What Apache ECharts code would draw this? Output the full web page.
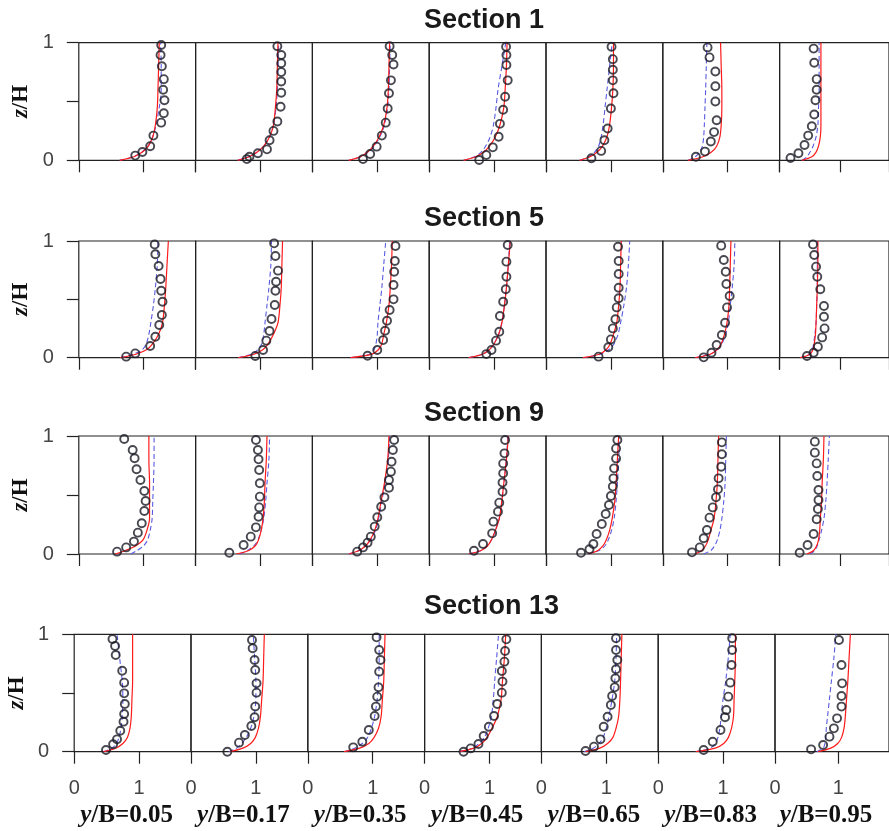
<!DOCTYPE html>
<html><head><meta charset="utf-8">
<script src="https://cdn.jsdelivr.net/npm/echarts@6/dist/echarts.min.js"></script>
<style>html,body{margin:0;padding:0;background:#fff}#c{width:889px;height:831px}</style>
</head><body><div id="c"></div>
<script>
const sections = ['Section 1', 'Section 5', 'Section 9', 'Section 13'];
const yBLabels = ['0.05', '0.17', '0.35', '0.45', '0.65', '0.83', '0.95'];
const xTicks = [0, 1];
const zTicks = [0, 0.5, 1];
const zLevels = [0, 0.03, 0.07, 0.12, 0.2, 0.3, 0.45, 0.6, 0.8, 1.0];

// model 1 (red solid), x values at zLevels, one row per y/B column
const red_S1 = [
  [0.63,0.85,0.98,1.07,1.14,1.18,1.21,1.22,1.23,1.24],
  [0.65,0.82,0.95,1.05,1.14,1.20,1.23,1.25,1.26,1.27],
  [0.56,0.74,0.85,0.94,1.03,1.10,1.15,1.17,1.18,1.19],
  [0.53,0.72,0.84,0.93,1.02,1.09,1.15,1.17,1.19,1.20],
  [0.52,0.68,0.79,0.87,0.94,0.98,1.01,1.03,1.04,1.04],
  [0.39,0.62,0.75,0.83,0.88,0.90,0.91,0.91,0.90,0.89],
  [0.37,0.53,0.60,0.64,0.67,0.68,0.68,0.68,0.68,0.68]
];
const red_S5 = [
  [0.64,0.88,1.05,1.14,1.23,1.29,1.32,1.34,1.36,1.38],
  [0.66,0.90,1.04,1.12,1.20,1.27,1.30,1.32,1.33,1.34],
  [0.59,0.92,1.02,1.07,1.10,1.14,1.18,1.20,1.22,1.23],
  [0.61,0.82,0.93,1.00,1.07,1.12,1.16,1.19,1.22,1.25],
  [0.57,0.82,0.93,0.99,1.04,1.09,1.12,1.14,1.15,1.16],
  [0.50,0.73,0.84,0.90,0.95,0.99,1.02,1.03,1.04,1.05],
  [0.34,0.50,0.55,0.57,0.59,0.60,0.61,0.62,0.63,0.63]
];
const red_S9 = [
  [0.56,0.72,0.88,0.99,1.05,1.09,1.09,1.09,1.08,1.08],
  [0.63,0.82,0.92,0.97,1.01,1.04,1.06,1.07,1.09,1.10],
  [0.56,0.72,0.82,0.89,0.96,1.01,1.06,1.11,1.16,1.18],
  [0.61,0.80,0.90,0.96,1.02,1.08,1.12,1.15,1.19,1.22],
  [0.65,0.80,0.88,0.93,0.98,1.02,1.06,1.08,1.10,1.12],
  [0.50,0.60,0.66,0.70,0.74,0.79,0.82,0.84,0.85,0.86],
  [0.45,0.56,0.61,0.64,0.66,0.67,0.69,0.70,0.72,0.73]
];
const red_S13 = [
  [0.45,0.64,0.75,0.82,0.86,0.88,0.89,0.90,0.90,0.90],
  [0.60,0.80,0.92,0.99,1.04,1.07,1.09,1.11,1.12,1.13],
  [0.56,0.80,0.94,1.02,1.09,1.13,1.15,1.17,1.18,1.19],
  [0.53,0.76,0.88,0.96,1.04,1.12,1.18,1.20,1.23,1.25],
  [0.68,0.90,1.02,1.10,1.15,1.19,1.21,1.22,1.23,1.24],
  [0.58,0.88,1.01,1.08,1.13,1.16,1.17,1.18,1.19,1.19],
  [0.68,0.88,0.99,1.05,1.09,1.11,1.13,1.15,1.17,1.19]
];

// model 2 (blue dashed)
const blue_S1 = [
  [0.63,0.84,0.97,1.07,1.14,1.19,1.24,1.27,1.27,1.26],
  [0.65,0.82,0.95,1.05,1.14,1.20,1.24,1.26,1.27,1.28],
  [0.56,0.74,0.86,0.95,1.04,1.11,1.16,1.18,1.19,1.20],
  [0.53,0.70,0.80,0.87,0.94,0.99,1.03,1.06,1.12,1.18],
  [0.52,0.66,0.75,0.81,0.85,0.88,0.91,0.94,0.98,1.02],
  [0.39,0.50,0.57,0.61,0.63,0.64,0.65,0.66,0.67,0.68],
  [0.37,0.45,0.50,0.55,0.60,0.63,0.64,0.65,0.65,0.65]
];
const blue_S5 = [
  [0.64,0.84,0.98,1.04,1.08,1.11,1.15,1.18,1.21,1.22],
  [0.66,0.86,0.96,1.02,1.05,1.07,1.10,1.13,1.16,1.17],
  [0.59,0.88,0.95,0.98,1.00,1.01,1.04,1.07,1.10,1.13],
  [0.61,0.82,0.93,1.00,1.07,1.12,1.16,1.19,1.22,1.24],
  [0.57,0.84,0.97,1.05,1.11,1.15,1.20,1.24,1.27,1.29],
  [0.50,0.73,0.84,0.91,0.97,1.01,1.04,1.07,1.10,1.11],
  [0.34,0.49,0.54,0.56,0.58,0.60,0.61,0.62,0.62,0.62]
];
const blue_S9 = [
  [0.80,0.90,1.00,1.06,1.10,1.13,1.14,1.15,1.16,1.16],
  [0.68,0.80,0.90,0.96,1.01,1.05,1.08,1.10,1.13,1.14],
  [0.56,0.72,0.82,0.90,0.97,1.02,1.07,1.12,1.17,1.19],
  [0.61,0.80,0.90,0.96,1.02,1.08,1.12,1.15,1.19,1.21],
  [0.65,0.82,0.91,0.96,1.01,1.05,1.08,1.10,1.12,1.13],
  [0.63,0.74,0.80,0.84,0.88,0.91,0.94,0.96,0.97,0.98],
  [0.50,0.58,0.62,0.65,0.69,0.73,0.76,0.78,0.80,0.82]
];
const blue_S13 = [
  [0.45,0.58,0.65,0.69,0.72,0.74,0.75,0.74,0.70,0.66],
  [0.58,0.70,0.78,0.85,0.92,0.97,1.00,1.00,0.98,0.96],
  [0.56,0.72,0.84,0.92,0.98,1.03,1.07,1.09,1.10,1.10],
  [0.53,0.74,0.84,0.92,0.98,1.03,1.06,1.08,1.11,1.14],
  [0.66,0.80,0.89,0.95,1.00,1.04,1.09,1.13,1.15,1.16],
  [0.58,0.80,0.88,0.92,0.95,0.97,1.00,1.04,1.08,1.11],
  [0.66,0.76,0.79,0.80,0.81,0.83,0.86,0.89,0.93,0.96]
];

// measured points (circles): [x, z/H]
const exp_S1 = [
  [[1.27,0.98],[1.26,0.895],[1.28,0.80],[1.31,0.69],[1.30,0.60],[1.32,0.51],[1.31,0.40],[1.27,0.32],[1.15,0.21],[1.10,0.12],[0.98,0.07],[0.87,0.04]],
  [[1.26,0.97],[1.32,0.895],[1.32,0.825],[1.32,0.75],[1.32,0.67],[1.32,0.575],[1.31,0.455],[1.26,0.33],[1.20,0.25],[1.14,0.17],[1.10,0.093],[0.96,0.06],[0.83,0.03],[0.79,0.01]],
  [[1.19,0.97],[1.23,0.895],[1.25,0.815],[1.21,0.68],[1.18,0.57],[1.16,0.44],[1.13,0.32],[1.07,0.21],[0.99,0.116],[0.89,0.054],[0.78,0.01]],
  [[1.185,0.966],[1.19,0.895],[1.19,0.81],[1.21,0.68],[1.17,0.54],[1.14,0.43],[1.09,0.31],[1.07,0.20],[0.98,0.11],[0.88,0.045],[0.77,0.003]],
  [[1.01,0.966],[1.03,0.86],[1.03,0.77],[1.03,0.68],[1.04,0.57],[1.00,0.44],[0.95,0.27],[0.90,0.17],[0.85,0.08],[0.70,0.017]],
  [[0.69,0.96],[0.72,0.875],[0.81,0.755],[0.81,0.63],[0.81,0.50],[0.83,0.34],[0.79,0.24],[0.74,0.16],[0.65,0.074],[0.51,0.03]],
  [[0.56,0.95],[0.57,0.83],[0.61,0.69],[0.61,0.60],[0.59,0.51],[0.57,0.39],[0.53,0.29],[0.47,0.21],[0.41,0.13],[0.31,0.06],[0.18,0.02]]
];
const exp_S5 = [
  [[1.17,0.97],[1.18,0.886],[1.23,0.786],[1.26,0.674],[1.27,0.574],[1.29,0.48],[1.28,0.366],[1.24,0.28],[1.18,0.18],[1.10,0.10],[0.87,0.037],[0.73,0.009]],
  [[1.21,0.98],[1.23,0.871],[1.27,0.746],[1.24,0.651],[1.23,0.574],[1.22,0.451],[1.17,0.331],[1.14,0.229],[1.09,0.146],[1.04,0.066],[0.92,0.014]],
  [[1.28,0.957],[1.27,0.829],[1.26,0.737],[1.25,0.623],[1.25,0.50],[1.19,0.409],[1.15,0.317],[1.12,0.231],[1.09,0.151],[1.00,0.066],[0.85,0.017]],
  [[1.21,0.966],[1.19,0.823],[1.19,0.694],[1.18,0.586],[1.14,0.48],[1.09,0.357],[1.08,0.223],[1.03,0.146],[0.96,0.066],[0.88,0.031]],
  [[1.11,0.951],[1.12,0.829],[1.12,0.717],[1.12,0.60],[1.12,0.509],[1.09,0.431],[1.07,0.329],[1.03,0.251],[1.00,0.157],[0.96,0.089],[0.81,0.009]],
  [[0.90,0.96],[0.94,0.837],[0.97,0.737],[0.98,0.631],[1.03,0.529],[0.99,0.431],[0.96,0.30],[0.91,0.194],[0.83,0.109],[0.75,0.043],[0.63,0.003]],
  [[0.55,0.971],[0.57,0.88],[0.60,0.78],[0.62,0.694],[0.67,0.586],[0.73,0.443],[0.73,0.351],[0.74,0.251],[0.70,0.174],[0.63,0.094],[0.56,0.043],[0.45,0.014]]
];
const exp_S9 = [
  [[0.70,0.975],[0.83,0.881],[0.86,0.811],[0.89,0.718],[0.95,0.627],[1.01,0.534],[1.03,0.449],[1.01,0.364],[0.97,0.26],[0.91,0.181],[0.85,0.105],[0.73,0.056],[0.59,0.02]],
  [[0.93,0.966],[0.96,0.881],[0.97,0.802],[0.98,0.712],[0.99,0.599],[0.99,0.486],[0.98,0.395],[0.97,0.316],[0.93,0.226],[0.85,0.147],[0.74,0.076],[0.52,0.011]],
  [[1.26,0.966],[1.24,0.881],[1.22,0.782],[1.21,0.698],[1.18,0.627],[1.18,0.562],[1.11,0.48],[1.06,0.401],[1.00,0.311],[0.96,0.232],[0.90,0.147],[0.85,0.096],[0.78,0.056],[0.69,0.02]],
  [[1.17,0.966],[1.16,0.853],[1.14,0.768],[1.14,0.684],[1.13,0.605],[1.13,0.528],[1.08,0.435],[1.06,0.359],[0.99,0.274],[0.97,0.175],[0.83,0.085],[0.69,0.028]],
  [[1.10,0.966],[1.08,0.895],[1.08,0.81],[1.05,0.726],[1.04,0.641],[1.03,0.571],[1.00,0.492],[0.97,0.415],[0.92,0.339],[0.86,0.254],[0.78,0.169],[0.73,0.085],[0.67,0.04],[0.54,0.011]],
  [[0.91,0.946],[0.91,0.845],[0.90,0.74],[0.86,0.641],[0.85,0.548],[0.82,0.48],[0.77,0.395],[0.72,0.308],[0.68,0.203],[0.63,0.133],[0.57,0.056],[0.45,0.014]],
  [[0.58,0.952],[0.58,0.859],[0.61,0.768],[0.62,0.661],[0.64,0.542],[0.64,0.458],[0.63,0.381],[0.61,0.294],[0.56,0.169],[0.46,0.076],[0.33,0.011]]
];
const exp_S13 = [
  [[0.59,0.96],[0.63,0.90],[0.64,0.824],[0.74,0.69],[0.77,0.588],[0.77,0.497],[0.78,0.406],[0.77,0.321],[0.76,0.256],[0.71,0.179],[0.66,0.105],[0.60,0.063],[0.49,0.014]],
  [[0.94,0.952],[0.95,0.881],[0.98,0.781],[0.99,0.696],[1.01,0.582],[1.01,0.503],[0.99,0.384],[0.98,0.293],[0.93,0.219],[0.83,0.142],[0.74,0.077],[0.56,0.0]],
  [[1.06,0.974],[1.10,0.866],[1.12,0.781],[1.10,0.682],[1.09,0.548],[1.07,0.469],[1.05,0.384],[1.03,0.304],[0.94,0.185],[0.84,0.085],[0.70,0.037]],
  [[1.26,0.957],[1.24,0.858],[1.23,0.767],[1.19,0.688],[1.20,0.597],[1.19,0.503],[1.12,0.406],[1.07,0.304],[0.99,0.213],[0.91,0.134],[0.83,0.065],[0.71,0.028],[0.60,0.0]],
  [[1.15,0.966],[1.15,0.866],[1.17,0.781],[1.15,0.702],[1.14,0.625],[1.13,0.548],[1.09,0.474],[1.07,0.398],[1.02,0.298],[0.96,0.213],[0.91,0.105],[0.81,0.043],[0.68,0.006]],
  [[1.14,0.966],[1.14,0.866],[1.13,0.739],[1.11,0.588],[1.08,0.469],[1.05,0.355],[1.03,0.293],[0.96,0.185],[0.84,0.085],[0.70,0.014]],
  [[1.01,0.952],[1.05,0.739],[1.06,0.582],[1.05,0.474],[1.05,0.384],[0.98,0.284],[0.93,0.199],[0.86,0.128],[0.76,0.057],[0.57,0.02]]
];

const redAll = [red_S1, red_S5, red_S9, red_S13];
const blueAll = [blue_S1, blue_S5, blue_S9, blue_S13];
const expAll = [exp_S1, exp_S5, exp_S9, exp_S13];

// layout
const rowTop = [42.7, 241, 436, 634.3];
const rowH = [117.6, 116.7, 118, 117.4];
const rowLeft = [78.8, 78.8, 78.8, 74.2];
const panelW = 116.8;
const titleTop = [7, 205, 400, 593];

const grids = [], xAxes = [], yAxes = [], series = [], titles = [];
const serif = 'Liberation Serif';
for (let r = 0; r < 4; r++) {
  titles.push({
    text: sections[r], left: 424, top: titleTop[r], padding: 0,
    textStyle: { fontFamily: 'Liberation Sans', fontWeight: 'bold', fontSize: 27, color: '#1a1a1a' }
  });
  for (let c = 0; c < 7; c++) {
    const gi = r * 7 + c;
    grids.push({
      left: rowLeft[r] + c * panelW, top: rowTop[r], width: panelW, height: rowH[r],
      show: true, borderColor: '#222', borderWidth: 1.2, backgroundColor: 'transparent'
    });
    const last = r === 3;
    xAxes.push({
      gridIndex: gi, type: 'value', min: 0, max: 1.8, interval: 1,
      axisLine: { show: false },
      axisTick: { show: true, length: 12, lineStyle: { color: '#222', width: 1.2 } },
      splitLine: { show: false },
      axisLabel: {
        show: last, showMaxLabel: false, margin: 27,
        formatter: v => (xTicks.indexOf(v) >= 0 ? String(v) : ''),
        fontFamily: 'Liberation Sans', fontSize: 20, color: '#444'
      },
      name: last ? '{i|y}{b|/B=' + yBLabels[c] + '}' : '',
      nameLocation: 'middle', nameGap: 51,
      nameTextStyle: {
        padding: [0, 12, 0, 0],
        rich: {
          i: { fontFamily: serif, fontStyle: 'italic', fontWeight: 'bold', fontSize: 25, color: '#111' },
          b: { fontFamily: serif, fontWeight: 'bold', fontSize: 25, color: '#111' }
        }
      }
    });
    const first = c === 0;
    yAxes.push({
      gridIndex: gi, type: 'value', min: 0, max: 1, interval: 0.5,
      axisLine: { show: false },
      axisTick: { show: first, length: 12, lineStyle: { color: '#222', width: 1.2 } },
      splitLine: { show: false },
      axisLabel: {
        show: first, margin: 25,
        formatter: v => (zTicks.indexOf(v) >= 0 && v !== 0.5 ? String(v) : ''),
        fontFamily: 'Liberation Sans', fontSize: 20, color: '#444'
      },
      name: first ? '{i|z}{b|/H}' : '',
      nameLocation: 'middle', nameGap: 46, nameRotate: 90,
      nameTextStyle: {
        rich: {
          i: { fontFamily: serif, fontStyle: 'italic', fontWeight: 'bold', fontSize: 23, color: '#111' },
          b: { fontFamily: serif, fontWeight: 'bold', fontSize: 23, color: '#111' }
        }
      }
    });
    series.push({
      type: 'line', xAxisIndex: gi, yAxisIndex: gi, smooth: 0.3, symbol: 'none',
      lineStyle: { color: '#5a5ae0', width: 1.1, type: [5, 3] },
      data: zLevels.map((z, i) => [blueAll[r][c][i], z]), z: 2
    });
    series.push({
      type: 'line', xAxisIndex: gi, yAxisIndex: gi, smooth: 0.3, symbol: 'none',
      lineStyle: { color: '#ff1a1a', width: 1.2 },
      data: zLevels.map((z, i) => [redAll[r][c][i], z]), z: 3
    });
    series.push({
      type: 'scatter', xAxisIndex: gi, yAxisIndex: gi, symbol: 'circle', symbolSize: 8, clip: false,
      itemStyle: { color: 'rgba(0,0,0,0)', borderColor: '#1a1a26', borderWidth: 1.9 },
      data: expAll[r][c], z: 4
    });
  }
}

const chart = echarts.init(document.getElementById('c'), null, { renderer: 'canvas' });
chart.setOption({
  animation: false,
  backgroundColor: '#fff',
  title: titles,
  grid: grids,
  xAxis: xAxes,
  yAxis: yAxes,
  series: series
});
</script>
</body></html>
